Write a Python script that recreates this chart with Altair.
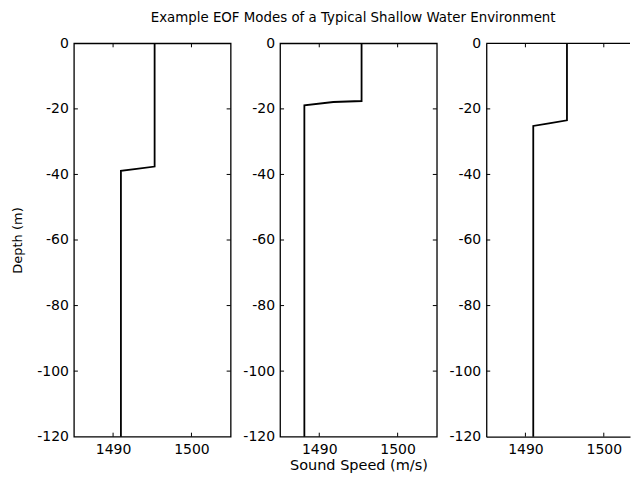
import altair as alt
import pandas as pd

# ---------------- data ----------------
title_text = "Example EOF Modes of a Typical Shallow Water Environment"
x_title_text = "Sound Speed (m/s)"
y_title_text = "Depth (m)"

# sound-speed profiles (speed m/s, depth m), drawn top to bottom
speed_1 = [1495.3, 1495.3, 1493.0, 1491.0, 1491.0]
depth_1 = [0, -37.6, -38.3, -38.9, -120]

speed_2 = [1495.4, 1495.4, 1491.8, 1488.1, 1488.1]
depth_2 = [0, -17.6, -17.9, -18.9, -120]

speed_3 = [1495.3, 1495.3, 1493.0, 1491.0, 1491.0]
depth_3 = [0, -23.5, -24.4, -25.2, -120]

x_ticks = [1490, 1500]
y_ticks = [0, -20, -40, -60, -80, -100, -120]
inner_y_ticks = [-20, -40, -60, -80, -100]
x_domain = [1485, 1505]
y_domain = [-120, 0]

# ---------------- layout ----------------
W = 157
W3 = 144          # last panel is cut by the page edge, as in the reference
H = 394
TICK = 4
FONT = "DejaVu Sans"


def panel(speed, depth, x_title, y_title, width, cut=False):
    df = pd.DataFrame({"speed": speed, "depth": depth, "i": list(range(len(speed)))})
    xmax = x_domain[0] + (x_domain[1] - x_domain[0]) * width / W
    xs = alt.Scale(domain=[x_domain[0], xmax], nice=False, zero=False)
    ys = alt.Scale(domain=y_domain, nice=False, zero=False)

    dom = dict(domain=True, domainColor="black", domainWidth=1.3) if cut else {}
    x_axis = alt.Axis(values=x_ticks, title=x_title, labelPadding=6,
                      titlePadding=2, titleFontSize=14.5, labelExpr="datum.value + ''", **dom)
    y_axis = alt.Axis(values=y_ticks, title=y_title, labelPadding=5.5,
                      titlePadding=12, titleFontSize=13, labelExpr="datum.value + ''", **dom)

    line = alt.Chart(df).mark_line(color="black", strokeWidth=1.8).encode(
        x=alt.X("speed:Q", scale=xs, axis=x_axis),
        y=alt.Y("depth:Q", scale=ys, axis=y_axis),
        order=alt.Order("i:Q"),
    )

    xt = pd.DataFrame({"speed": x_ticks})
    yt = pd.DataFrame({"depth": inner_y_ticks})

    layers = [line]
    layers.append(alt.Chart(xt).mark_rule(color="black", strokeWidth=1).encode(
        x=alt.X("speed:Q", scale=xs, axis=x_axis), y=alt.value(0), y2=alt.value(TICK)))
    layers.append(alt.Chart(xt).mark_rule(color="black", strokeWidth=1).encode(
        x=alt.X("speed:Q", scale=xs, axis=x_axis), y=alt.value(H), y2=alt.value(H - TICK)))
    layers.append(alt.Chart(yt).mark_rule(color="black", strokeWidth=1).encode(
        y=alt.Y("depth:Q", scale=ys, axis=y_axis), x=alt.value(0), x2=alt.value(TICK)))
    if cut:
        top = pd.DataFrame({"depth": [y_domain[1]]})
        layers.append(alt.Chart(top).mark_rule(color="black", strokeWidth=1.3).encode(
            y=alt.Y("depth:Q", scale=ys, axis=y_axis), x=alt.value(0), x2=alt.value(width)))
    else:
        layers.append(alt.Chart(yt).mark_rule(color="black", strokeWidth=1).encode(
            y=alt.Y("depth:Q", scale=ys, axis=y_axis), x=alt.value(width), x2=alt.value(width - TICK)))

    ch = alt.layer(*layers).properties(width=width, height=H)
    if cut:
        ch = ch.properties(view=alt.ViewBackground(stroke="transparent", fill="white"))
    return ch


p1 = panel(speed_1, depth_1, None, y_title_text, W)
p2 = panel(speed_2, depth_2, x_title_text, None, W)
p3 = panel(speed_3, depth_3, None, None, W3, cut=True)

chart = alt.hconcat(p1, p2, p3, spacing=49.5, bounds="flush").properties(
    title=alt.TitleParams(title_text, font=FONT, fontSize=13.4, fontWeight="normal",
                          color="black", anchor="middle", offset=11, dx=32),
    padding={"left": 3, "top": 2, "right": 0, "bottom": 0},
    background="white",
).configure_view(
    stroke="black", strokeWidth=1.3, fill="white"
).configure_axis(
    grid=False, ticks=False, domain=False,
    labelFont=FONT, labelFontSize=14, labelColor="black",
    titleFont=FONT, titleFontWeight="normal", titleColor="black",
    labelOverlap=False, labelFlush=False,
)

chart.save("out.html", embed_options={"renderer": "svg", "actions": False})
